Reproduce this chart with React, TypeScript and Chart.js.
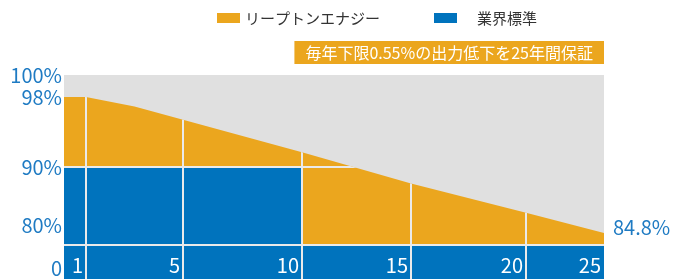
import React, { useEffect, useRef } from 'react';
import { Chart, registerables, LinearScale } from 'chart.js';

// ---------------- data ----------------
const LEAPTON_LABEL = 'リープトンエナジー';
const STANDARD_LABEL = '業界標準';
const BANNER_TEXT = '毎年下限0.55%の出力低下を25年間保証';

// Leapton Energy guaranteed output (%) by year
const LEAPTON_YEARS = [0, 1, 3, 5, 10, 15, 20, 25];
const LEAPTON_VALUES = [98, 98, 96.9, 95.4, 91.7, 88.7, 86.4, 84.8];

// Industry standard guarantee (%) — stepped
const STANDARD_YEARS = [0, 10, 25];
const STANDARD_VALUES = [90, 80, 80];

// tick labels
const X_TICKS = [1, 5, 10, 15, 20, 25];
const Y_TICKS = [100, 98, 90, 80, 0];
const Y_RIGHT_TICKS = [84.8];
const GRID_LEVELS = [90, 80];

// ---------------- styling ----------------
const FONT = '"Noto Sans CJK JP", "Noto Sans", sans-serif';
const ORANGE = '#EBA61E';
const BLUE = '#0073BD';
const GRAY = '#E0E0E0';
const AXIS_TEXT = '#1F7BC3';
const LEGEND_TEXT = '#333333';
const GRID = '#EAEAEA';

// Piecewise (broken) scales: value stops -> decimal position along the axis
const SCALE_STOPS: Record<string, { values: number[]; fracs: number[] }> = {
  x: { values: [0, 1, 5, 10, 15, 20, 25], fracs: [0, 0.0407, 0.2204, 0.4407, 0.6426, 0.8556, 1] },
  y: { values: [-40, 0, 80, 84.8, 90, 98, 100], fracs: [0, 0.0539, 0.1667, 0.2255, 0.549, 0.8922, 1] },
};
SCALE_STOPS.y2 = SCALE_STOPS.y;

function interp(v: number, xs: number[], ys: number[]) {
  const n = xs.length;
  let i = 0;
  if (v <= xs[0]) i = 0;
  else if (v >= xs[n - 1]) i = n - 2;
  else {
    while (i < n - 2 && v > xs[i + 1]) i++;
  }
  const t = (v - xs[i]) / (xs[i + 1] - xs[i]);
  return ys[i] + t * (ys[i + 1] - ys[i]);
}

class PiecewiseScale extends LinearScale {
  static id = 'piecewise';
  getPixelForValue(value: any) {
    if (value === null || value === undefined || Number.isNaN(value)) return NaN;
    const s = SCALE_STOPS[(this as any).id];
    return (this as any).getPixelForDecimal(interp(value, s.values, s.fracs));
  }
  getValueForPixel(pixel: number) {
    const s = SCALE_STOPS[(this as any).id];
    return interp((this as any).getDecimalForPixel(pixel), s.fracs, s.values);
  }
}

Chart.register(...registerables, PiecewiseScale as any);
Chart.defaults.font.family = FONT;

const backgroundPlugin = {
  id: 'plotBackground',
  beforeDraw(chart: any) {
    const { ctx, chartArea: a } = chart;
    ctx.save();
    ctx.fillStyle = GRAY;
    ctx.fillRect(a.left, a.top, a.right - a.left, a.bottom - a.top);
    ctx.restore();
  },
};

const clippedGridPlugin = {
  id: 'clippedGrid',
  afterDatasetsDraw(chart: any) {
    const { ctx, chartArea: a, scales } = chart;
    const x = scales.x;
    const y = scales.y;
    const pts = chart.getDatasetMeta(0).data;
    if (!pts.length) return;
    ctx.save();
    ctx.beginPath();
    ctx.moveTo(pts[0].x, a.bottom);
    pts.forEach((p: any) => ctx.lineTo(p.x, p.y));
    ctx.lineTo(pts[pts.length - 1].x, a.bottom);
    ctx.closePath();
    ctx.clip();
    ctx.strokeStyle = GRID;
    ctx.lineWidth = 2;
    ctx.beginPath();
    x.ticks.forEach((t: any) => {
      if (t.value > x.min && t.value < x.max) {
        const px = Math.round(x.getPixelForValue(t.value));
        ctx.moveTo(px, a.top);
        ctx.lineTo(px, a.bottom);
      }
    });
    GRID_LEVELS.forEach((v) => {
      const py = Math.round(y.getPixelForValue(v));
      ctx.moveTo(a.left, py);
      ctx.lineTo(a.right, py);
    });
    ctx.stroke();
    ctx.restore();
  },
};

const legendBannerPlugin = {
  id: 'legendBanner',
  afterDraw(chart: any) {
    const { ctx, chartArea: a } = chart;
    ctx.save();
    // legend
    ctx.font = `15px ${FONT}`;
    ctx.textBaseline = 'middle';
    ctx.textAlign = 'left';
    const items = [
      { color: ORANGE, text: LEAPTON_LABEL, box: 217, textX: 245 },
      { color: BLUE, text: STANDARD_LABEL, box: 434, textX: 477 },
    ];
    items.forEach((it) => {
      ctx.fillStyle = it.color;
      ctx.fillRect(it.box, 13, 23, 10);
      ctx.fillStyle = LEGEND_TEXT;
      ctx.fillText(it.text, it.textX, 18.5);
    });
    // banner
    ctx.font = `16px ${FONT}`;
    const w = ctx.measureText(BANNER_TEXT).width;
    const right = a.right;
    const bw = w + 22;
    const top = a.top - 34;
    ctx.fillStyle = ORANGE;
    ctx.fillRect(right - bw, top, bw, 23);
    ctx.fillStyle = '#FFFFFF';
    ctx.textAlign = 'center';
    ctx.fillText(BANNER_TEXT, right - bw / 2, top + 12);
    ctx.restore();
  },
};

export default function App() {
  const ref = useRef<HTMLCanvasElement>(null);
  useEffect(() => {
    document.body.style.margin = '0';
    const chart = new Chart(ref.current as HTMLCanvasElement, {
      type: 'line',
      data: {
        datasets: [
          {
            label: LEAPTON_LABEL,
            data: LEAPTON_YEARS.map((yr, i) => ({ x: yr, y: LEAPTON_VALUES[i] })),
            borderWidth: 0,
            pointRadius: 0,
            backgroundColor: ORANGE,
            borderColor: ORANGE,
            fill: 'start',
            order: 2,
          },
          {
            label: STANDARD_LABEL,
            data: STANDARD_YEARS.map((yr, i) => ({ x: yr, y: STANDARD_VALUES[i] })),
            stepped: 'before',
            borderWidth: 0,
            pointRadius: 0,
            backgroundColor: BLUE,
            borderColor: BLUE,
            fill: 'start',
            order: 1,
          },
        ],
      },
      options: {
        responsive: false,
        animation: false,
        events: [],
        layout: { padding: { top: 75, left: 0, right: 0, bottom: 0 } },
        plugins: {
          legend: { display: false },
          tooltip: { enabled: false },
          title: { display: false },
        },
        scales: {
          x: {
            type: 'piecewise' as any,
            min: 0,
            max: 25,
            grid: { display: false, drawTicks: false },
            border: { display: false },
            afterBuildTicks: (s: any) => {
              s.ticks = X_TICKS.map((v) => ({ value: v }));
            },
            afterFit: (s: any) => {
              s.height = 0;
              s.paddingLeft = 0;
              s.paddingRight = 0;
            },
            ticks: {
              autoSkip: false,
              maxRotation: 0,
              minRotation: 0,
              mirror: true,
              align: 'end',
              labelOffset: -3,
              padding: 2,
              color: '#FFFFFF',
              font: { size: 20 },
              z: 1,
              callback: (v: any) => String(v),
            },
          } as any,
          y: {
            type: 'piecewise' as any,
            position: 'left',
            min: -40,
            max: 100,
            grid: { display: false, drawTicks: false },
            border: { display: false },
            afterBuildTicks: (s: any) => {
              s.ticks = Y_TICKS.map((v) => ({ value: v }));
            },
            afterFit: (s: any) => {
              s.width = 64;
              s.paddingTop = 0;
              s.paddingBottom = 0;
            },
            ticks: {
              autoSkip: false,
              padding: 2,
              color: AXIS_TEXT,
              font: (c: any) => ({ size: 20, lineHeight: c.tick && c.tick.value === 80 ? '40px' : 1.2 }),
              callback: (v: any) => (v === 0 ? '0' : v === 80 ? [`${v}%`, ''] : `${v}%`),
            },
          } as any,
          y2: {
            type: 'piecewise' as any,
            position: 'right',
            min: -40,
            max: 100,
            grid: { display: false, drawTicks: false },
            border: { display: false },
            afterBuildTicks: (s: any) => {
              s.ticks = Y_RIGHT_TICKS.map((v) => ({ value: v }));
            },
            afterFit: (s: any) => {
              s.width = 69;
              s.paddingTop = 0;
              s.paddingBottom = 0;
            },
            ticks: {
              autoSkip: false,
              padding: 9,
              color: AXIS_TEXT,
              font: { size: 20, lineHeight: '12px' },
              callback: (v: any) => [`${v}%`, ''],
            },
          } as any,
        },
      },
      plugins: [backgroundPlugin, clippedGridPlugin, legendBannerPlugin],
    } as any);
    return () => chart.destroy();
  }, []);
  return (
    <div style={{ width: 673, height: 279 }}>
      <canvas ref={ref} width={673} height={279} style={{ display: 'block' }} />
    </div>
  );
}
